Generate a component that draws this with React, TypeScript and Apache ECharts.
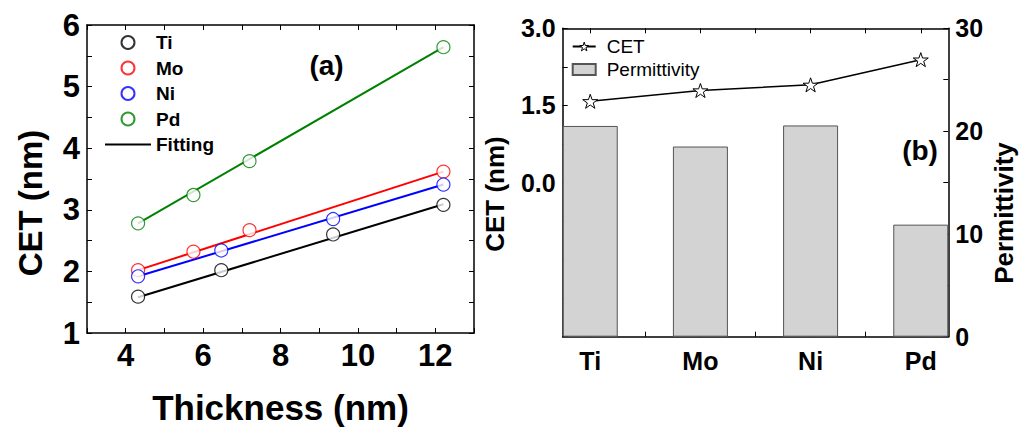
import React, { useEffect, useRef } from "react";
import * as echarts from "echarts";

const FONT = "Liberation Sans, Arial, Helvetica, sans-serif";

// Panel (a)
const metalNames = ["Ti", "Mo", "Ni", "Pd"];
const metalColors = ["#000000", "#ff0000", "#0000ff", "#008000"];
const thicknessTi = [4.32, 6.47, 9.36, 12.21];
const cetTi = [1.59, 2.02, 2.6, 3.08];
const thicknessMo = [4.32, 5.75, 7.2, 12.21];
const cetMo = [2.02, 2.32, 2.67, 3.62];
const thicknessNi = [4.32, 6.47, 9.36, 12.21];
const cetNi = [1.92, 2.34, 2.85, 3.41];
const thicknessPd = [4.32, 5.75, 7.2, 12.21];
const cetPd = [2.78, 3.24, 3.79, 5.64];
const fitX = [4.32, 12.21];
const fitTi = [1.58, 3.09];
const fitMo = [2.02, 3.62];
const fitNi = [1.92, 3.41];
const fitPd = [2.78, 5.64];

// Panel (b)
const categoriesB = ["Ti", "Mo", "Ni", "Pd"];
const permittivity = [20.5, 18.5, 20.55, 10.9];
const cetB = [1.58, 1.79, 1.9, 2.39];

const STAR =
  "path://M50,0 L61.8,35.1 L98.9,35.1 L69.1,56.7 L80.3,91.5 L50,70 L19.7,91.5 L30.9,56.7 L1.1,35.1 L38.2,35.1 Z";
const LINE_ICON = "path://M0,0 H46 V2 H0 Z";

const zip = (xs: number[], ys: number[]) => xs.map((x, i) => [x, ys[i]]);

export default function App() {
  const ref = useRef<HTMLDivElement>(null);
  useEffect(() => {
    if (!ref.current) return;
    const chart = echarts.init(ref.current, null, { renderer: "svg" });

    const axisLine = { show: true, onZero: false, lineStyle: { color: "#000", width: 1.5 } };
    const tick = { show: true, inside: true, length: 5, lineStyle: { color: "#000", width: 1 } };
    const bigLabel = { fontFamily: FONT, fontWeight: "bold" as const, color: "#000" };

    const ptsA = [
      zip(thicknessTi, cetTi),
      zip(thicknessMo, cetMo),
      zip(thicknessNi, cetNi),
      zip(thicknessPd, cetPd),
    ];
    const fitsA = [fitTi, fitMo, fitNi, fitPd];

    const scatterSeries = metalNames.map((name, i) => ({
      type: "scatter",
      name,
      xAxisIndex: 0,
      yAxisIndex: 0,
      data: ptsA[i],
      symbol: "circle",
      symbolSize: 13,
      z: 5,
      itemStyle: { color: "#ffffff", borderColor: metalColors[i], borderWidth: 1.2 },
    }));
    const fitSeries = metalNames.map((_, i) => ({
      type: "line",
      name: "Fitting",
      xAxisIndex: 0,
      yAxisIndex: 0,
      data: zip(fitX, fitsA[i]),
      symbol: "none",
      z: 3,
      lineStyle: { color: metalColors[i], width: 2 },
      itemStyle: { color: metalColors[i] },
    }));

    chart.setOption({
      animation: false,
      grid: [
        { left: 87, top: 25, width: 387, height: 309 },
        { left: 562.7, top: 28.3, width: 385.6, height: 308.4 },
      ],
      xAxis: [
        {
          gridIndex: 0,
          type: "value",
          position: "bottom",
          min: 3,
          max: 13,
          interval: 1,
          axisLine,
          axisTick: tick,
          splitLine: { show: false },
          axisLabel: {
            ...bigLabel,
            fontSize: 31,
            margin: 7,
            formatter: (v: number) => (v % 2 === 0 ? String(v) : ""),
          },
          name: "Thickness (nm)",
          nameLocation: "middle",
          nameGap: 57,
          nameTextStyle: { ...bigLabel, fontSize: 35 },
        },
        {
          gridIndex: 0,
          type: "value",
          position: "top",
          min: 3,
          max: 13,
          interval: 1,
          axisLine,
          axisTick: tick,
          splitLine: { show: false },
          axisLabel: { show: false },
        },
        {
          gridIndex: 1,
          type: "value",
          position: "bottom",
          min: 0.75,
          max: 4.25,
          axisLine,
          axisTick: { ...tick, customValues: [1, 1.5, 2, 2.5, 3, 3.5, 4] },
          splitLine: { show: false },
          axisLabel: {
            ...bigLabel,
            fontSize: 25,
            margin: 12,
            customValues: [1, 2, 3, 4],
            formatter: (v: number) => categoriesB[Math.round(v) - 1] ?? "",
          },
        },
        {
          gridIndex: 1,
          type: "value",
          position: "top",
          min: 0.75,
          max: 4.25,
          axisLine,
          axisTick: { ...tick, customValues: [1, 1.5, 2, 2.5, 3, 3.5, 4] },
          splitLine: { show: false },
          axisLabel: { show: false },
        },
      ],
      yAxis: [
        {
          gridIndex: 0,
          type: "value",
          position: "left",
          min: 1,
          max: 6,
          interval: 0.5,
          axisLine,
          axisTick: tick,
          splitLine: { show: false },
          axisLabel: {
            ...bigLabel,
            fontSize: 31,
            margin: 7,
            formatter: (v: number) => (Number.isInteger(v) ? String(v) : ""),
          },
        },
        {
          gridIndex: 0,
          type: "value",
          position: "right",
          min: 1,
          max: 6,
          interval: 0.5,
          axisLine,
          axisTick: tick,
          splitLine: { show: false },
          axisLabel: { show: false },
        },
        {
          gridIndex: 1,
          type: "value",
          position: "left",
          min: -3,
          max: 3,
          interval: 0.75,
          axisLine,
          axisTick: tick,
          splitLine: { show: false },
          axisLabel: {
            ...bigLabel,
            fontSize: 25,
            margin: 7,
            formatter: (v: number) =>
              Math.abs(v) < 1e-9 || Math.abs(v - 1.5) < 1e-9 || Math.abs(v - 3) < 1e-9
                ? v.toFixed(1)
                : "",
          },
        },
        {
          gridIndex: 1,
          type: "value",
          position: "right",
          min: 0,
          max: 30,
          interval: 5,
          axisLine,
          axisTick: tick,
          splitLine: { show: false },
          axisLabel: {
            ...bigLabel,
            fontSize: 25,
            margin: 7,
            formatter: (v: number) => (v % 10 === 0 ? String(v) : ""),
          },
        },
      ],
      legend: [
        {
          orient: "vertical",
          left: 105,
          top: 33,
          padding: 0,
          itemWidth: 46,
          itemHeight: 13,
          itemGap: 6.5,
          symbolKeepAspect: true,
          data: [
            "Ti",
            "Mo",
            "Ni",
            "Pd",
            { name: "Fitting", icon: LINE_ICON, itemStyle: { color: "#000000" } },
          ],
          textStyle: { fontFamily: FONT, fontWeight: "bold", fontSize: 19, color: "#000" },
          selectedMode: false,
        },
        {
          orient: "vertical",
          left: 571.7,
          top: 37,
          padding: 0,
          itemWidth: 23,
          itemHeight: 11,
          itemGap: 4,
          data: [
            {
              name: "CET",
              itemStyle: { color: "#ffffff", borderColor: "#000000", borderWidth: 1 },
            },
            { name: "Permittivity", icon: "rect" },
          ],
          textStyle: { fontFamily: FONT, fontSize: 19, color: "#000", padding: [0, 0, 0, 6] },
          selectedMode: false,
        },
      ],
      series: [
        ...fitSeries,
        ...scatterSeries,
        {
          type: "bar",
          name: "Permittivity",
          xAxisIndex: 2,
          yAxisIndex: 3,
          barWidth: 55,
          data: permittivity.map((v, i) => [i + 1, v]),
          itemStyle: { color: "#d3d3d3", borderColor: "#555555", borderWidth: 1 },
          z: 2,
        },
        {
          type: "line",
          name: "CET",
          xAxisIndex: 2,
          yAxisIndex: 2,
          data: cetB.map((v, i) => [i + 1, v]),
          symbol: STAR,
          symbolSize: 15,
          symbolKeepAspect: true,
          showAllSymbol: true,
          z: 4,
          lineStyle: { color: "#000", width: 1.5 },
          itemStyle: { color: "#ffffff", borderColor: "#000000", borderWidth: 1 },
        },
      ],
      graphic: [
        {
          type: "text",
          x: 30,
          y: 203,
          rotation: Math.PI / 2,
          style: {
            text: "CET (nm)",
            fontFamily: FONT,
            fontWeight: "bold",
            fontSize: 33,
            fill: "#000",
            textAlign: "center",
            textVerticalAlign: "middle",
          },
        },
        {
          type: "text",
          x: 326.5,
          y: 65,
          style: {
            text: "(a)",
            fontFamily: FONT,
            fontWeight: "bold",
            fontSize: 28,
            fill: "#000",
            textAlign: "center",
            textVerticalAlign: "middle",
          },
        },
        {
          type: "text",
          x: 495,
          y: 194,
          rotation: Math.PI / 2,
          style: {
            text: "CET (nm)",
            fontFamily: FONT,
            fontWeight: "bold",
            fontSize: 26,
            fill: "#000",
            textAlign: "center",
            textVerticalAlign: "middle",
          },
        },
        {
          type: "text",
          x: 1004,
          y: 213,
          rotation: Math.PI / 2,
          style: {
            text: "Permittivity",
            fontFamily: FONT,
            fontWeight: "bold",
            fontSize: 26,
            fill: "#000",
            textAlign: "center",
            textVerticalAlign: "middle",
          },
        },
        {
          type: "text",
          x: 920,
          y: 150,
          style: {
            text: "(b)",
            fontFamily: FONT,
            fontWeight: "bold",
            fontSize: 28,
            fill: "#000",
            textAlign: "center",
            textVerticalAlign: "middle",
          },
        },
      ],
    });
    return () => chart.dispose();
  }, []);

  return (
    <div
      ref={ref}
      style={{ position: "fixed", left: 0, top: 0, width: 1034, height: 430, background: "#fff" }}
    />
  );
}
